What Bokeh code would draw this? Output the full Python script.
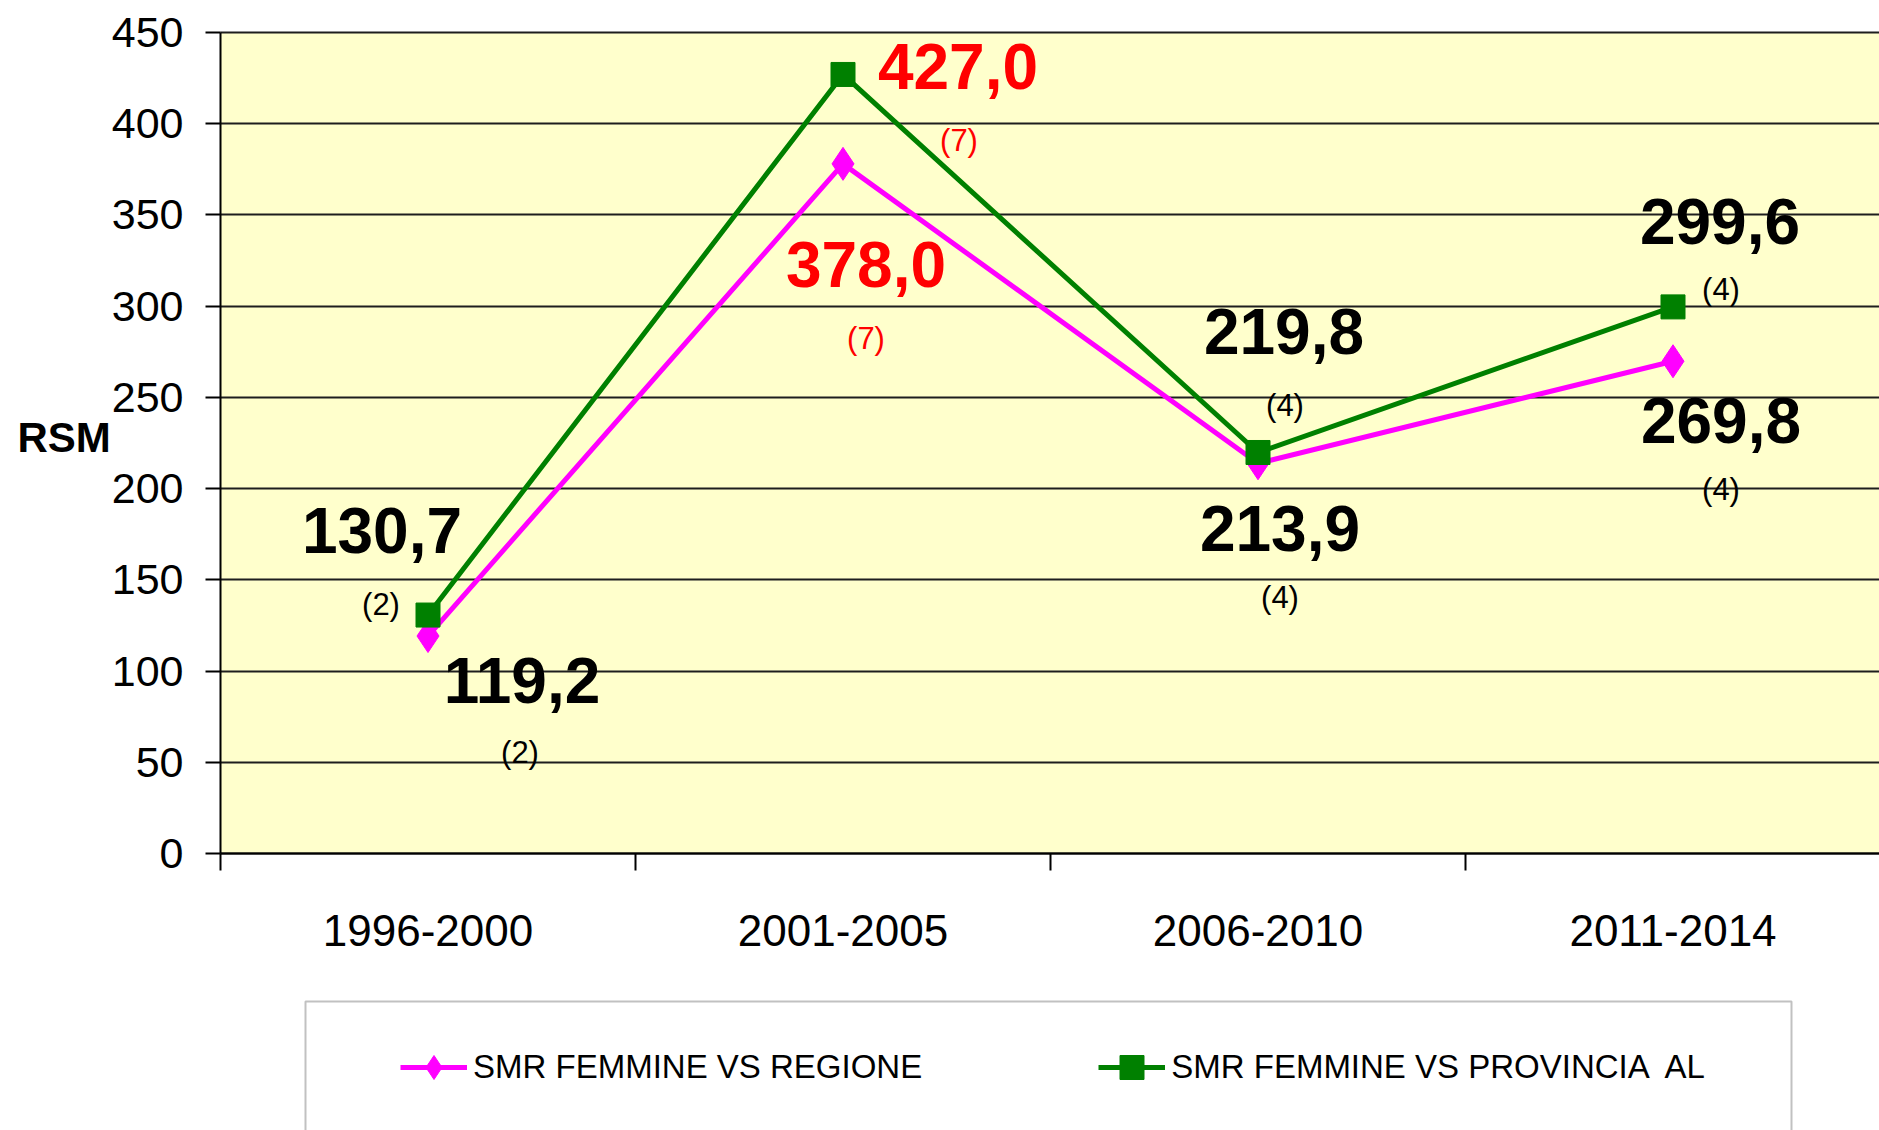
from bokeh.plotting import figure
from bokeh.models import (ColumnDataSource, Range1d, FixedTicker,
                          Legend, LegendItem, BoxAnnotation, Label)
from bokeh.core.properties import value
from bokeh.embed import file_html
from bokeh.resources import INLINE

# ---------------- data ----------------
periods = ["1996-2000", "2001-2005", "2006-2010", "2011-2014"]
smr_regione = [119.2, 378.0, 213.9, 269.8]
smr_provincia = [130.7, 427.0, 219.8, 299.6]
cases_regione = [2, 7, 4, 4]
cases_provincia = [2, 7, 4, 4]
series_names = ["SMR FEMMINE VS REGIONE", "SMR FEMMINE VS PROVINCIA  AL"]
y_ticks = [0, 50, 100, 150, 200, 250, 300, 350, 400, 450]
y_title = "RSM"

# ---------------- styles ----------------
FONT = "Liberation Sans"
MAGENTA = "#FF00FF"
GREEN = "#008000"
HIGHLIGHT = [False, True, False, False]   # red labels
# label offsets in screen pixels (value label, count label)
off_prov_val = [(-46, -85), (115, -8), (26, -121), (47, -85)]
off_prov_cnt = [(-47, -11), (116, 66), (27, -47), (48, -17)]
off_reg_val = [(94, 44), (23, 101), (22, 65), (48, 59)]
off_reg_cnt = [(92, 116), (23, 175), (22, 134), (48, 128)]

xs = [i + 0.5 for i in range(len(periods))]

def fmt(v):
    return f"{v:.1f}".replace(".", ",")

W, H = 1879, 1130
TOP, LEFT = 32, 220              # canvas position of value 450 / of the value axis
ZERO_Y = 853                     # canvas y of value 0
CAT_W = 415                      # px per period
ppu = (ZERO_Y - TOP) / (y_ticks[-1] - y_ticks[0])
y_lo = y_ticks[0] - (H - ZERO_Y) / ppu
y_hi = y_ticks[-1] + TOP / ppu
x_lo = -LEFT / CAT_W
x_hi = (W - LEFT) / CAT_W

p = figure(width=W, height=H, output_backend="svg", toolbar_location=None,
           x_range=Range1d(x_lo, x_hi), y_range=Range1d(y_lo, y_hi),
           min_border=0)
p.background_fill_color = "white"
p.border_fill_color = "white"
p.outline_line_color = None

# chart area fill
p.add_layout(BoxAnnotation(left=0, right=x_hi + 1.0, bottom=y_ticks[0], top=y_ticks[-1],
                           fill_color="#FFFFCC", fill_alpha=1.0,
                           line_color=None, level="image"))

# grid
p.xgrid.visible = False
p.ygrid.grid_line_color = "#1e1e1e"
p.ygrid.grid_line_width = 2
p.ygrid.cross_bounds = (0, x_hi + 1.0)

# y axis (fixed at x = 0)
p.yaxis.fixed_location = 0
p.yaxis.ticker = FixedTicker(ticks=y_ticks)
p.yaxis.bounds = (y_ticks[0], y_ticks[-1])
p.yaxis.axis_line_color = "black"
p.yaxis.axis_line_width = 2
p.yaxis.major_tick_line_color = "black"
p.yaxis.major_tick_line_width = 2
p.yaxis.major_tick_in = 0
p.yaxis.major_tick_out = 15
p.yaxis.minor_tick_line_color = None
p.yaxis.major_label_standoff = 22
p.yaxis.major_label_text_font = FONT
p.yaxis.major_label_text_font_size = "43px"
p.yaxis.major_label_text_color = "black"

# axis title
p.add_layout(Label(x=x_lo, y=(y_ticks[0] + y_ticks[-1]) / 2 + 3, x_offset=17,
                   text=y_title, text_font=FONT, text_font_style="bold",
                   text_font_size="42px", text_color="black",
                   text_align="left", text_baseline="middle"))

# x axis (fixed at value 0)
p.xaxis.fixed_location = y_ticks[0]
p.xaxis.ticker = FixedTicker(ticks=xs, minor_ticks=list(range(len(periods))))
p.xaxis.major_label_overrides = {x: lab for x, lab in zip(xs, periods)}
p.xaxis.bounds = (0, x_hi)
p.xaxis.axis_line_color = "black"
p.xaxis.axis_line_width = 2
p.xaxis.major_tick_line_color = None
p.xaxis.major_tick_in = 0
p.xaxis.major_tick_out = 0
p.xaxis.minor_tick_line_color = "black"
p.xaxis.minor_tick_line_width = 2
p.xaxis.minor_tick_in = 0
p.xaxis.minor_tick_out = 17
p.xaxis.major_label_standoff = 44
p.xaxis.major_label_text_font = FONT
p.xaxis.major_label_text_font_size = "44px"
p.xaxis.major_label_text_color = "black"

# series
src_reg = ColumnDataSource(dict(x=xs, y=smr_regione))
src_prov = ColumnDataSource(dict(x=xs, y=smr_provincia))
l1 = p.line("x", "y", source=src_reg, line_color=MAGENTA, line_width=5)
m1 = p.scatter("x", "y", source=src_reg, marker="diamond", size=33,
               fill_color=MAGENTA, line_color=MAGENTA, line_width=1)
l2 = p.line("x", "y", source=src_prov, line_color=GREEN, line_width=5)
m2 = p.scatter("x", "y", source=src_prov, marker="square", size=24,
               fill_color=GREEN, line_color=GREEN, line_width=1)

# labels
def add_labels(vals, cnts, off_v, off_c):
    colors = ["#FF0000" if h else "black" for h in HIGHLIGHT]
    sv = ColumnDataSource(dict(x=xs, y=vals, t=[fmt(v) for v in vals],
                               xo=[o[0] for o in off_v], yo=[o[1] for o in off_v], c=colors))
    sc = ColumnDataSource(dict(x=xs, y=vals, t=[f"({n})" for n in cnts],
                               xo=[o[0] for o in off_c], yo=[o[1] for o in off_c], c=colors))
    p.text("x", "y", text="t", source=sv, x_offset="xo", y_offset="yo", text_color="c",
           text_font=value(FONT), text_font_style="bold", text_font_size="64px",
           text_align="center", text_baseline="middle")
    p.text("x", "y", text="t", source=sc, x_offset="xo", y_offset="yo", text_color="c",
           text_font=value(FONT), text_font_size="31px",
           text_align="center", text_baseline="middle")

add_labels(smr_provincia, cases_provincia, off_prov_val, off_prov_cnt)
add_labels(smr_regione, cases_regione, off_reg_val, off_reg_cnt)

# legend frame box
box = BoxAnnotation(left=305, right=1791, top=1001, bottom=1250,
                    left_units="canvas", right_units="canvas",
                    top_units="canvas", bottom_units="canvas",
                    fill_color="white", fill_alpha=1.0,
                    line_color="#333333", line_width=2, level="annotation")
p.add_layout(box)

legend = Legend(items=[LegendItem(label=series_names[0], renderers=[l1, m1]),
                       LegendItem(label=series_names[1], renderers=[l2, m2])],
                orientation="horizontal", location=(400, 33),
                padding=10, spacing=176, margin=0,
                glyph_width=67, glyph_height=60, label_standoff=6,
                label_text_font=FONT, label_text_font_size="33px",
                label_text_color="black",
                border_line_color=None, background_fill_alpha=0.0)
p.add_layout(legend, "center")

open("out.html", "w").write(file_html(p, INLINE))
